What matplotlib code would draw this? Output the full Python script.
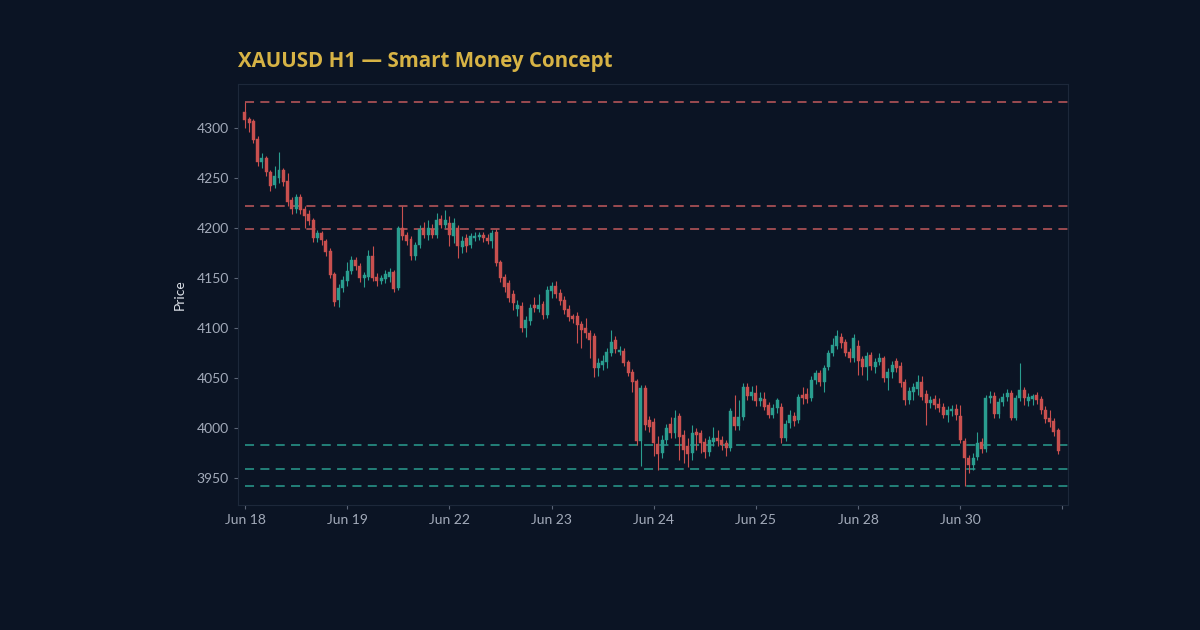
import matplotlib
matplotlib.use("Agg")
import matplotlib.pyplot as plt
from matplotlib.patches import Rectangle

# hourly candles, 24 per day: open, high, low, close
opens = [
    4316, 4309, 4307, 4289, 4266, 4270, 4256, 4243, 4250, 4258, 4247, 4228,
    4219, 4231, 4219, 4214, 4208, 4190, 4195, 4187, 4177, 4154, 4128, 4140,
    4147, 4157, 4168, 4162, 4150, 4151, 4172, 4151, 4147, 4149, 4151, 4156,
    4140, 4200, 4193, 4189, 4172, 4183, 4200, 4193, 4199, 4193, 4209, 4203,
    4205, 4192, 4200, 4181, 4190, 4183, 4190, 4191, 4193, 4190, 4187, 4196,
    4166, 4151, 4145, 4134, 4119, 4122, 4100, 4107, 4123, 4119, 4124, 4113,
    4137, 4142, 4135, 4128, 4119, 4112, 4112, 4104, 4100, 4095, 4092, 4060,
    4063, 4066, 4075, 4088, 4076, 4077, 4066, 4056, 4047, 3987, 4040, 4008,
    4006, 3984, 3975, 3988, 4004, 3995, 4012, 3993, 3982, 3975, 3996, 3995,
    3986, 3976, 3986, 3990, 3988, 3985, 3980, 4011, 4002, 4011, 4041, 4032,
    4035, 4027, 4029, 4023, 4013, 4020, 4021, 3990, 4005, 4012, 4008, 4033,
    4034, 4030, 4048, 4055, 4046, 4061, 4075, 4082, 4091, 4086, 4076, 4070,
    4082, 4069, 4061, 4073, 4061, 4066, 4070, 4050, 4056, 4067, 4062, 4046,
    4028, 4036, 4039, 4046, 4034, 4025, 4029, 4024, 4021, 4013, 4017, 4019,
    4012, 3987, 3970, 3963, 3971, 3986, 3979, 4030, 4032, 4014, 4026, 4031,
    4035, 4010, 4030, 4038, 4027, 4029, 4033, 4029, 4018, 4010, 4007, 3998,
]
highs = [
    4326, 4311, 4309, 4292, 4275, 4272, 4258, 4262, 4276, 4260, 4255, 4231,
    4234, 4234, 4222, 4218, 4210, 4198, 4197, 4189, 4180, 4156, 4144, 4152,
    4166, 4172, 4171, 4165, 4156, 4178, 4182, 4155, 4153, 4158, 4160, 4158,
    4202, 4222, 4196, 4192, 4186, 4203, 4206, 4208, 4204, 4215, 4213, 4218,
    4212, 4210, 4203, 4192, 4194, 4195, 4196, 4196, 4196, 4194, 4198, 4199,
    4168, 4154, 4148, 4138, 4128, 4126, 4112, 4124, 4131, 4134, 4127, 4142,
    4146, 4147, 4139, 4132, 4123, 4114, 4116, 4107, 4110, 4098, 4095, 4070,
    4073, 4080, 4098, 4092, 4082, 4080, 4068, 4059, 4049, 4043, 4043, 4012,
    4010, 3992, 3993, 4004, 4011, 4018, 4015, 3998, 3990, 4003, 4000, 3998,
    3990, 3992, 4001, 3998, 3992, 3988, 4020, 4033, 4028, 4045, 4045, 4042,
    4043, 4036, 4036, 4026, 4024, 4030, 4025, 4008, 4018, 4016, 4034, 4041,
    4040, 4052, 4058, 4058, 4063, 4078, 4090, 4098, 4095, 4089, 4080, 4094,
    4088, 4072, 4076, 4076, 4070, 4075, 4072, 4060, 4067, 4070, 4066, 4049,
    4041, 4045, 4053, 4052, 4038, 4032, 4033, 4030, 4025, 4022, 4023, 4024,
    4023, 3990, 3973, 3975, 3996, 3990, 4033, 4037, 4036, 4030, 4035, 4039,
    4038, 4033, 4065, 4041, 4035, 4034, 4036, 4032, 4022, 4018, 4010, 4000,
]
lows = [
    4300, 4296, 4285, 4262, 4260, 4252, 4237, 4240, 4245, 4242, 4222, 4214,
    4215, 4214, 4200, 4203, 4186, 4186, 4183, 4172, 4150, 4122, 4121, 4136,
    4142, 4154, 4158, 4146, 4141, 4148, 4147, 4142, 4144, 4145, 4146, 4136,
    4138, 4188, 4183, 4168, 4168, 4180, 4190, 4188, 4190, 4190, 4200, 4200,
    4182, 4185, 4170, 4175, 4176, 4180, 4187, 4188, 4186, 4184, 4180, 4162,
    4146, 4136, 4126, 4118, 4112, 4096, 4091, 4103, 4116, 4116, 4109, 4110,
    4130, 4130, 4123, 4114, 4107, 4105, 4085, 4080, 4090, 4070, 4051, 4052,
    4058, 4060, 4072, 4075, 4073, 4062, 4052, 4036, 3983, 3962, 3998, 3996,
    3972, 3958, 3970, 3984, 3990, 3990, 3968, 3965, 3961, 3968, 3978, 3975,
    3970, 3972, 3982, 3982, 3978, 3972, 3977, 3998, 3998, 4008, 4028, 4028,
    4022, 4022, 4018, 4010, 4010, 4015, 3985, 3987, 4000, 4002, 4005, 4024,
    4025, 4027, 4044, 4042, 4036, 4058, 4072, 4079, 4080, 4072, 4066, 4066,
    4053, 4053, 4048, 4058, 4055, 4063, 4046, 4038, 4050, 4056, 4041, 4023,
    4024, 4028, 4033, 4028, 4003, 4020, 4019, 4016, 4010, 4006, 4012, 4008,
    3985, 3942, 3955, 3958, 3968, 3975, 3976, 4025, 4010, 4010, 4022, 4027,
    4008, 4008, 4027, 4023, 4022, 4023, 4024, 4014, 4005, 4001, 3992, 3974,
]
closes = [
    4308, 4305, 4288, 4266, 4270, 4256, 4242, 4252, 4258, 4246, 4226, 4219,
    4231, 4218, 4212, 4207, 4190, 4195, 4188, 4176, 4153, 4126, 4140, 4148,
    4157, 4168, 4162, 4150, 4153, 4172, 4150, 4147, 4150, 4154, 4156, 4139,
    4200, 4192, 4187, 4172, 4183, 4199, 4193, 4200, 4193, 4208, 4203, 4208,
    4193, 4205, 4182, 4187, 4182, 4192, 4192, 4193, 4190, 4187, 4195, 4165,
    4150, 4141, 4130, 4125, 4123, 4100, 4108, 4120, 4120, 4123, 4113, 4138,
    4142, 4134, 4127, 4118, 4111, 4109, 4103, 4098, 4095, 4088, 4060, 4065,
    4067, 4076, 4086, 4079, 4078, 4065, 4055, 4046, 3987, 4040, 4003, 4001,
    3985, 3974, 3988, 4000, 3995, 4010, 3991, 3978, 3974, 3995, 3993, 3985,
    3976, 3988, 3990, 3987, 3983, 3980, 4017, 4002, 4011, 4041, 4032, 4036,
    4027, 4030, 4021, 4013, 4020, 4028, 3990, 4004, 4013, 4007, 4031, 4030,
    4029, 4048, 4055, 4046, 4060, 4075, 4083, 4092, 4085, 4075, 4070, 4090,
    4067, 4061, 4072, 4062, 4066, 4070, 4050, 4056, 4063, 4060, 4045, 4028,
    4037, 4041, 4046, 4031, 4025, 4028, 4023, 4020, 4013, 4018, 4019, 4013,
    3988, 3970, 3963, 3970, 3985, 3979, 4030, 4032, 4014, 4026, 4031, 4035,
    4010, 4030, 4038, 4030, 4031, 4032, 4028, 4018, 4009, 4006, 3996, 3977,
]

day_labels = ["Jun 18", "Jun 19", "Jun 22", "Jun 23", "Jun 24",
              "Jun 25", "Jun 28", "Jun 30", ""]

supply_levels = [4326, 4222, 4199]   # red dashed
demand_levels = [3983, 3959, 3942]   # teal dashed

bg = "#0b1424"
up_col = "#2a9d8f"
dn_col = "#c9504f"

fig = plt.figure(figsize=(12, 6.3), dpi=100, facecolor=bg)
ax = fig.add_axes([0.1983, 0.1984, 0.6917, 0.6683], facecolor=bg)

n = len(closes)
x_right = n + 1.3
for i in range(n):
    o, h, l, c = opens[i], highs[i], lows[i], closes[i]
    col = up_col if c >= o else dn_col
    ax.vlines(i, l, h, color=col, lw=0.8, zorder=2)
    ax.add_patch(Rectangle((i - 0.35, min(o, c)), 0.7, max(abs(c - o), 0.6),
                           facecolor=col, edgecolor=col, lw=0.3, zorder=3))

for lv in supply_levels:
    ax.hlines(lv, 0, x_right, colors="#c25a5c", linestyles=(0, (5, 3.5)),
              lw=1.3, alpha=0.85, zorder=1)
for lv in demand_levels:
    ax.hlines(lv, 0, x_right, colors=up_col, linestyles=(0, (5, 3.5)),
              lw=1.3, alpha=0.85, zorder=1)

ax.set_xlim(-1.64, x_right)
ax.set_ylim(3923, 4344)
ax.set_xticks(range(0, n + 1, 24))
ax.set_xticklabels(day_labels)
ax.set_yticks([3950, 4000, 4050, 4100, 4150, 4200, 4250, 4300])

ax.tick_params(colors="#5b6577", labelcolor="#a3abba", labelsize=10, length=3)
for lab in ax.get_xticklabels() + ax.get_yticklabels():
    lab.set_family("Lato")
for sp in ax.spines.values():
    sp.set_color("#1d283a")
    sp.set_linewidth(0.8)

ax.set_ylabel("Price", color="#dde1e8", fontsize=10, family="Lato", labelpad=8)
fig.text(0.1983, 0.903, "XAUUSD H1 \u2014 Smart Money Concept", color="#d7b345",
         fontsize=14.8, fontweight="bold", family="Open Sans", ha="left", va="center")

fig.savefig("out.png", dpi=100, facecolor=bg)
